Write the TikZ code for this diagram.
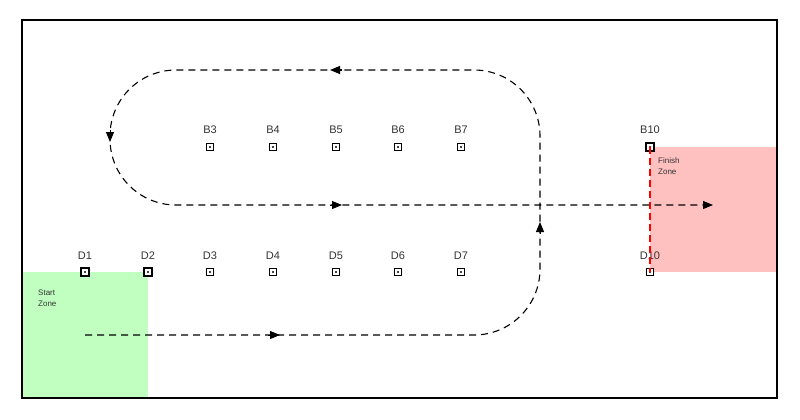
\documentclass[tikz,border=0pt]{standalone}
\usepackage{fontspec}
\setmainfont{Liberation Sans}
\usetikzlibrary{arrows.meta}
\begin{document}
\begin{tikzpicture}[x=1pt,y=-1pt,
  route/.style={draw=black,line width=1.1pt,dash pattern=on 7pt off 5pt,rounded corners=66pt},
  tip/.style={-{Triangle[length=10pt,width=8pt]},line width=1pt},
  marker/.style={draw=black,line width=1pt,minimum size=7pt,inner sep=0pt,fill=white},
  boldmarker/.style={marker,line width=1.6pt,minimum size=8pt},
  lbl/.style={font=\fontsize{11}{12}\selectfont,text=black!80,inner sep=0pt},
  zonetxt/.style={font=\fontsize{8}{10}\selectfont,align=left,anchor=north west,inner sep=0pt,text=black!80}]
\useasboundingbox (0,0) rectangle (800,420);
% zones
\fill[fill={rgb,255:red,192;green,255;blue,192}] (22,272) rectangle (148,398);
\fill[fill={rgb,255:red,255;green,192;blue,192}] (650,147) rectangle (777,272);
% border
\draw[line width=1.2pt] (22,20) rectangle (777,398);
\draw[line width=2pt] (777,20) -- (777,398);
% markers B row
\foreach \n/\x/\s in {B3/210/marker,B4/273/marker,B5/336/marker,B6/398/marker,B7/461/marker,B10/650/boldmarker}{
  \node[\s] (m\n) at (\x,147) {};
  \fill (m\n.center) circle (1.2pt);
  \node[lbl] (l\n) at (\x,130) {\n};
}
\foreach \n/\x/\s in {D1/85/boldmarker,D2/148/boldmarker,D3/210/marker,D4/273/marker,D5/336/marker,D6/398/marker,D7/461/marker,D10/650/marker}{
  \node[\s] (m\n) at (\x,272) {};
  \fill (m\n.center) circle (1.2pt);
  \node[lbl] (l\n) at (\x,256) {\n};
}
% finish line
\draw[red,line width=1.5pt,dash pattern=on 7pt off 4pt] (mB10.center) -- (mD10.center);
% zone labels
\node[zonetxt] (st) at (38,290) {Start\\[1pt]Zone};
\node[zonetxt] (fz) at (658,158) {Finish\\[1pt]Zone};
% route
\coordinate (s) at (85,335);
\coordinate (c1) at (540,335);
\coordinate (c2) at (540,70);
\coordinate (c3) at (110,70);
\coordinate (c4) at (110,205);
\coordinate (e) at (713,205);
\draw[route] (s) -- (c1) -- (c2) -- (c3) -- (c4) -- (e);
% arrows
\draw[tip] (268,335) -- (280,335);
\draw[tip] (540,234) -- (540,222);
\draw[tip] (342,70) -- (330,70);
\draw[tip] (110,130) -- (110,142);
\draw[tip] (330,205) -- (342,205);
\draw[tip] (704,205) -- (e);
\end{tikzpicture}
\end{document}
